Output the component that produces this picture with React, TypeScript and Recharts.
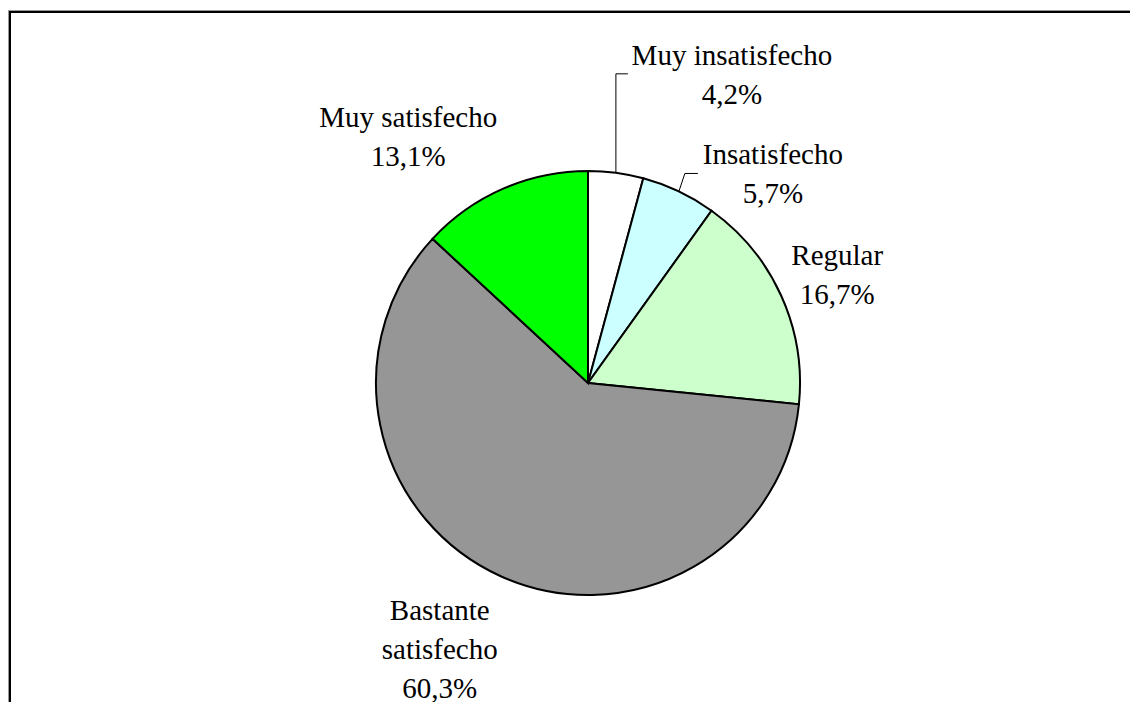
import React from "react";
import { PieChart, Pie, Cell } from "recharts";

const categories = ["Muy insatisfecho", "Insatisfecho", "Regular", "Bastante satisfecho", "Muy satisfecho"];
const categoryLines = [["Muy insatisfecho"], ["Insatisfecho"], ["Regular"], ["Bastante", "satisfecho"], ["Muy satisfecho"]];
const values = [4.2, 5.7, 16.7, 60.3, 13.1];
const colors = ["#FFFFFF", "#CCFFFF", "#CCFFCC", "#969696", "#00FF00"];

const data = categories.map((name, i) => ({ name, value: values[i] }));

// label layout: offsets from the slice's outer mid point
const labelLayout = [
  { dx: 116, dy: -108, leader: [[0, -99], [12, -99]] },
  { dx: 94, dy: -27, leader: [[6, -18], [19, -18]] },
  { dx: 56, dy: -31, leader: null },
  { dx: -61, dy: 44, leader: null },
  { dx: -95, dy: -62, leader: null },
];
const lineGap = 39;
const FONT = "'Liberation Serif', 'Times New Roman', serif";

const fmt = (v: number) => v.toFixed(1).replace(".", ",") + "%";

const renderLabel = (props: any) => {
  const { cx, cy, midAngle, outerRadius, index } = props;
  const rad = Math.PI / 180;
  const ax = cx + outerRadius * Math.cos(-midAngle * rad);
  const ay = cy + outerRadius * Math.sin(-midAngle * rad);
  const L = labelLayout[index];
  const lines = [...categoryLines[index], fmt(values[index])];
  const tx = ax + L.dx;
  const ty = ay + L.dy;
  return (
    <g key={`lbl-${index}`}>
      {L.leader && (
        <polyline
          points={[[0, 0], ...L.leader].map(([x, y]) => `${ax + x},${ay + y}`).join(" ")}
          fill="none"
          stroke="#000"
          strokeWidth={1}
        />
      )}
      <text x={tx} y={ty} textAnchor="middle" style={{ fontFamily: FONT, fontSize: 29 }} fill="#000">
        {lines.map((t, k) => (
          <tspan key={k} x={tx} y={ty + k * lineGap}>
            {t}
          </tspan>
        ))}
      </text>
    </g>
  );
};

export default function App() {
  return (
    <div style={{ position: "relative", width: 1130, height: 702, overflow: "hidden", background: "#fff" }}>
      <style>{`html,body{margin:0;padding:0;overflow:hidden}`}</style>
      <div
        style={{
          position: "absolute",
          left: 9,
          top: 11,
          width: 1200,
          height: 800,
          borderLeft: "2px solid #000",
          borderTop: "2px solid #000",
          boxShadow: "-1px -1px 0 #999",
        }}
      />
      <div style={{ position: "absolute", left: 0, top: 0 }}>
        <PieChart width={1130} height={702}>
          <Pie
            data={data}
            dataKey="value"
            nameKey="name"
            cx={583}
            cy={378}
            outerRadius={212}
            startAngle={90}
            endAngle={-270}
            stroke="#000"
            strokeWidth={2}
            label={renderLabel}
            labelLine={false}
            isAnimationActive={false}
          >
            {data.map((d, i) => (
              <Cell key={d.name} fill={colors[i]} stroke="#000" strokeWidth={2} />
            ))}
          </Pie>
        </PieChart>
      </div>
    </div>
  );
}
